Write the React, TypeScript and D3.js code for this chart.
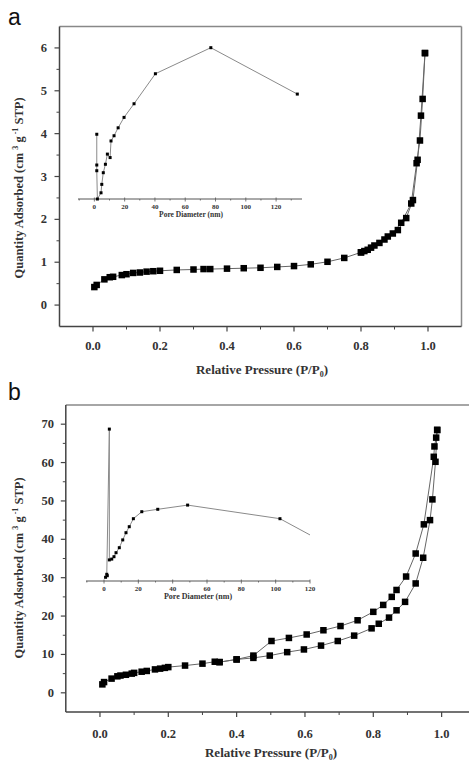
import React from 'react';
import * as d3 from 'd3';

// panel a: N2 isotherm (adsorption / desorption), P/P0 vs quantity adsorbed
const aAdsP = [0.004, 0.011, 0.034, 0.05, 0.06, 0.086, 0.1, 0.12, 0.14, 0.16, 0.18, 0.2, 0.25, 0.3, 0.33, 0.35, 0.4, 0.45, 0.5, 0.55, 0.6, 0.65, 0.7, 0.75, 0.8, 0.82, 0.84, 0.87, 0.895, 0.92, 0.95, 0.966, 0.976, 0.984, 0.991];
const aAdsQ = [0.42, 0.47, 0.6, 0.65, 0.66, 0.7, 0.72, 0.75, 0.76, 0.78, 0.79, 0.8, 0.82, 0.83, 0.84, 0.84, 0.85, 0.86, 0.87, 0.89, 0.91, 0.95, 1.01, 1.1, 1.23, 1.29, 1.39, 1.53, 1.67, 1.92, 2.37, 3.31, 3.84, 4.81, 5.88];
const aDesP = [0.991, 0.979, 0.969, 0.955, 0.935, 0.91, 0.88, 0.855, 0.83, 0.81, 0.8];
const aDesQ = [5.88, 4.42, 3.39, 2.45, 2.03, 1.75, 1.6, 1.45, 1.34, 1.26, 1.23];

// panel a inset: pore size distribution
const aPore = [1.6, 1.6, 1.6, 2.0, 4.4, 4.9, 5.9, 7.3, 8.6, 10.4, 11.0, 13.0, 15.7, 19.6, 26.2, 40.3, 76.9, 134];
const aDv = [2.61, 1.37, 1.14, 0, 0.25, 0.59, 1.06, 1.4, 1.81, 1.67, 2.34, 2.55, 2.87, 3.29, 3.84, 5.05, 6.1, 4.23];

// panel b
const bAdsP = [0.007, 0.012, 0.034, 0.051, 0.06, 0.076, 0.093, 0.1, 0.122, 0.137, 0.161, 0.176, 0.19, 0.2, 0.249, 0.3, 0.336, 0.35, 0.4, 0.449, 0.497, 0.548, 0.597, 0.647, 0.696, 0.744, 0.795, 0.816, 0.846, 0.868, 0.893, 0.924, 0.946, 0.966, 0.973, 0.982, 0.987];
const bAdsQ = [2.2, 2.8, 3.7, 4.3, 4.5, 4.7, 5.0, 5.2, 5.5, 5.7, 6.1, 6.3, 6.5, 6.7, 7.1, 7.6, 8.1, 8.0, 8.7, 9.1, 9.7, 10.6, 11.3, 12.3, 13.5, 14.9, 16.8, 18.0, 19.6, 21.5, 23.7, 28.5, 35.2, 45.0, 50.4, 60.2, 68.5];
const bDesP = [0.987, 0.984, 0.979, 0.977, 0.948, 0.924, 0.896, 0.868, 0.854, 0.829, 0.8, 0.754, 0.704, 0.654, 0.605, 0.553, 0.502, 0.449, 0.4, 0.35];
const bDesQ = [68.5, 66.5, 64.2, 61.5, 43.9, 36.3, 30.3, 26.8, 25.0, 22.9, 21.1, 18.9, 17.4, 16.3, 15.2, 14.3, 13.5, 9.7, 8.7, 8.0];

const bPore = [0.9, 1.9, 1.6, 3.1, 3.1, 4.5, 5.8, 7.0, 8.9, 10.9, 12.8, 14.7, 17.1, 22.0, 31.3, 48.7, 102.5, 140];
const bDv = [0.85, 1.25, 1.6, 37.9, 5.2, 5.4, 6.0, 7.0, 8.25, 10.2, 12.0, 13.5, 15.5, 17.25, 17.85, 18.9, 15.5, 6.8];

const xTickLabels = ['0.0', '0.2', '0.4', '0.6', '0.8', '1.0'];
const insetTicks = [0, 20, 40, 60, 80, 100, 120];

const SERIF = '"Liberation Serif", "Times New Roman", serif';
const SANS = '"Liberation Sans", Arial, sans-serif';

const zip = (a: number[], b: number[]) => a.map((v, i) => [v, b[i]] as [number, number]);

const Squares = ({ pts, x, y, size }: any) => (
  <g fill="#000">
    {pts.map((d: [number, number], i: number) => (
      <rect key={i} x={x(d[0]) - size / 2} y={y(d[1]) - size / 2} width={size} height={size} />
    ))}
  </g>
);

const Inset = ({ id, x, y, pore, dv, axisY, tickY, titleX, titleY, titleSize }: any) => {
  const pts = zip(pore, dv);
  const line = d3.line<[number, number]>().x(d => x(d[0])).y(d => y(d[1]));
  const [x0, x1] = x.range();
  const minor = d3.range(-10, 131, 10).filter(v => v % 20 !== 0 && x(v) >= x0 && x(v) <= x1);
  return (
    <g>
      <defs>
        <clipPath id={id}>
          <rect x={x0} y={0} width={x1 - x0} height={800} />
        </clipPath>
      </defs>
      <line x1={x0} x2={x1} y1={axisY} y2={axisY} stroke="#555" strokeWidth={1} />
      {insetTicks.map(t => (
        <line key={t} x1={x(t)} x2={x(t)} y1={axisY - 1.5} y2={axisY + 2.5} stroke="#555" strokeWidth={0.8} />
      ))}
      {minor.map(t => (
        <line key={'m' + t} x1={x(t)} x2={x(t)} y1={axisY} y2={axisY + 1.5} stroke="#555" strokeWidth={0.8} />
      ))}
      {insetTicks.map(t => (
        <text key={'l' + t} x={x(t)} y={tickY} textAnchor="middle" fontSize={7} fontWeight="bold" fontFamily={SERIF} fill="#333">{t}</text>
      ))}
      <text x={titleX} y={titleY} textAnchor="middle" fontSize={titleSize} fontWeight="bold" fontFamily={SERIF} fill="#333">Pore Diameter (nm)</text>
      <g clipPath={`url(#${id})`}>
        <path d={line(pts) || ''} fill="none" stroke="#8a8a8a" strokeWidth={1} />
        <Squares pts={pts.filter(d => d[0] <= 135)} x={x} y={y} size={3} />
      </g>
    </g>
  );
};

const Panel = ({ x, y, ads, des, yMajor, yMinor, tickLabelX, xLabelBase, titleX, titleY, yTitleX, yTitleY, letter, letterY, children }: any) => {
  const [x0, x1] = x.range();
  const [yb, yt] = y.range();
  const line = d3.line<[number, number]>().x(d => x(d[0])).y(d => y(d[1]));
  const xMajor = d3.range(0, 1.01, 0.2);
  const xMinor = d3.range(0.1, 1.0, 0.2);
  return (
    <g>
      <text x={8} y={letterY} fontFamily={SANS} fontSize={23} fill="#111">{letter}</text>
      {/* frame */}
      <line x1={x0} x2={x1} y1={yt} y2={yt} stroke="#888" strokeWidth={1.5} />
      <line x1={x1} x2={x1} y1={yt} y2={yb} stroke="#888" strokeWidth={1.5} />
      <line x1={x0} x2={x0} y1={yt} y2={yb} stroke="#444" strokeWidth={1.5} />
      <line x1={x0} x2={x1} y1={yb} y2={yb} stroke="#444" strokeWidth={1.5} />
      {yMajor.map((t: number) => (
        <g key={t}>
          <line x1={x0 - 5} x2={x0} y1={y(t)} y2={y(t)} stroke="#444" strokeWidth={1.2} />
          <text x={tickLabelX} y={y(t) + 4} textAnchor="end" fontSize={12.5} fontWeight="bold" fontFamily={SERIF} fill="#333">{t}</text>
        </g>
      ))}
      {yMinor.map((t: number) => (
        <line key={'m' + t} x1={x0 - 3} x2={x0} y1={y(t)} y2={y(t)} stroke="#444" strokeWidth={1} />
      ))}
      {xMajor.map((t, i) => (
        <g key={i}>
          <line x1={x(t)} x2={x(t)} y1={yb} y2={yb + 5} stroke="#444" strokeWidth={1.2} />
          <text x={x(t)} y={xLabelBase} textAnchor="middle" fontSize={12.5} fontWeight="bold" fontFamily={SERIF} fill="#333">{xTickLabels[i]}</text>
        </g>
      ))}
      {xMinor.map((t, i) => (
        <line key={'xm' + i} x1={x(t)} x2={x(t)} y1={yb} y2={yb + 3} stroke="#444" strokeWidth={1} />
      ))}
      <text x={titleX} y={titleY} textAnchor="middle" fontSize={13} fontWeight="bold" fontFamily={SERIF} fill="#333">
        Relative Pressure (P/P<tspan dy={3} fontSize={8}>0</tspan><tspan dy={-3}>)</tspan>
      </text>
      <text transform={`translate(${yTitleX},${yTitleY}) rotate(-90)`} textAnchor="middle" fontSize={12.5} fontWeight="bold" fontFamily={SERIF} fill="#333">
        Quantity Adsorbed (cm <tspan dy={-5} fontSize={8}>3</tspan><tspan dy={5}> g</tspan><tspan dy={-5} fontSize={8}> -1</tspan><tspan dy={5}> STP)</tspan>
      </text>
      {children}
      <path d={line(des) || ''} fill="none" stroke="#666" strokeWidth={1} />
      <path d={line(ads) || ''} fill="none" stroke="#666" strokeWidth={1} />
      <Squares pts={des} x={x} y={y} size={6.5} />
      <Squares pts={ads} x={x} y={y} size={6.5} />
    </g>
  );
};

export default function App() {
  const xa = d3.scaleLinear().domain([-0.1, 1.1]).range([59.5, 461.5]);
  const ya = d3.scaleLinear().domain([-0.5, 6.5]).range([326.5, 26.5]);
  const xb = d3.scaleLinear().domain([-0.1, 1.1]).range([65.8, 475.8]);
  const yb = d3.scaleLinear().domain([-5, 75]).range([712, 405]);

  const ixa = d3.scaleLinear().domain([-10.8, 137.1]).range([78, 302]);
  const iya = d3.scaleLinear().domain([0, 6.41]).range([199, 40]);
  const ixb = d3.scaleLinear().domain([-10.5, 120]).range([86, 310]);
  const iyb = d3.scaleLinear().domain([0, 40]).range([580.7, 420.7]);

  return (
    <svg width={469} height={765} style={{ position: 'absolute', left: 0, top: 0, background: '#fff' }}>
      <Panel
        x={xa} y={ya}
        ads={zip(aAdsP, aAdsQ)} des={zip(aDesP, aDesQ)}
        yMajor={d3.range(0, 7)} yMinor={d3.range(0.5, 6.5, 1)}
        tickLabelX={47} xLabelBase={350} titleX={262} titleY={374}
        yTitleX={23} yTitleY={188} letter="a" letterY={25}
      >
        <Inset id="clipA" x={ixa} y={iya} pore={aPore} dv={aDv} axisY={199} tickY={209} titleX={191} titleY={217} titleSize={7.5} />
      </Panel>
      <Panel
        x={xb} y={yb}
        ads={zip(bAdsP, bAdsQ)} des={zip(bDesP, bDesQ)}
        yMajor={d3.range(0, 71, 10)} yMinor={d3.range(5, 71, 10)}
        tickLabelX={54} xLabelBase={738} titleX={271} titleY={757}
        yTitleX={23} yTitleY={568} letter="b" letterY={400}
      >
        <Inset id="clipB" x={ixb} y={iyb} pore={bPore} dv={bDv} axisY={581} tickY={591} titleX={198} titleY={599} titleSize={8} />
      </Panel>
    </svg>
  );
}
